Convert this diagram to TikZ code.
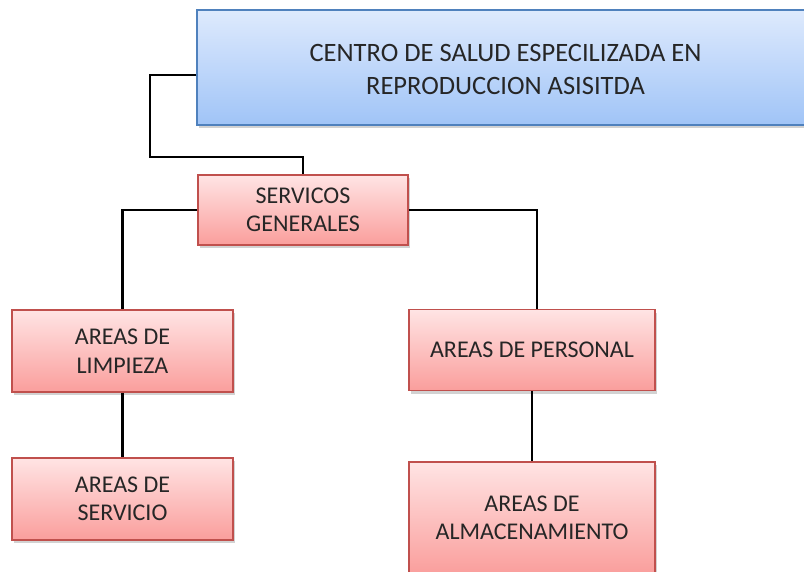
\documentclass[tikz,border=0pt]{standalone}
\usepackage{fontspec}
\setmainfont{Carlito}
\usetikzlibrary{shadows,calc}
\definecolor{blueTop}{RGB}{222,234,253}
\definecolor{blueBot}{RGB}{160,196,247}
\definecolor{blueBorder}{RGB}{79,129,189}
\definecolor{redTop}{RGB}{255,228,228}
\definecolor{redBot}{RGB}{250,158,156}
\definecolor{redBorder}{RGB}{192,80,77}
\tikzset{
  x=1pt,y=1pt,
  bluebox/.style={draw=blueBorder, line width=1.5pt, top color=blueTop, bottom color=blueBot,
    rectangle, align=center, font=\fontsize{26.5}{32.5}\selectfont, text=black!85,
    drop shadow={shadow xshift=2pt, shadow yshift=-3pt, opacity=0.35}, inner sep=0pt},
  redbox/.style={draw=redBorder, line width=1.5pt, top color=redTop, bottom color=redBot,
    rectangle, align=center, font=\fontsize{24}{28.5}\selectfont, text=black!85,
    drop shadow={shadow xshift=2pt, shadow yshift=-3pt, opacity=0.35}, inner sep=0pt},
  conn/.style={draw=black, line width=2.2pt}
}
\begin{document}
\begin{tikzpicture}
\useasboundingbox (0,0) rectangle (804,-571);
\clip (0,0) rectangle (804,-571);
\fill[white] (0,0) rectangle (804,-571);
\node[bluebox, minimum width=617, minimum height=115] (top) at (505.5,-67.5)
  {\raisebox{-4pt}[\height][\depth]{\begin{tabular}{@{}c@{}}CENTRO DE SALUD ESPECILIZADA EN\\REPRODUCCION ASISITDA\end{tabular}}};
\node[redbox, minimum width=210, minimum height=70] (serv) at (303,-210)
  {SERVICOS\\GENERALES};
\node[redbox, minimum width=221, minimum height=82] (limp) at (122.5,-351)
  {AREAS DE\\LIMPIEZA};
\node[redbox, minimum width=221, minimum height=82] (servi) at (122.5,-499)
  {AREAS DE\\SERVICIO};
\node[redbox, minimum width=246, minimum height=81] (pers) at (532,-350)
  {AREAS DE PERSONAL};
\node[redbox, minimum width=246, minimum height=112] (alm) at (532,-518)
  {AREAS DE\\ALMACENAMIENTO};
\coordinate (bend) at (150,-157);
\draw[conn] ([yshift=-7.5pt]top.west) -| (bend) -| (serv.north);
\draw[conn] (serv.west) -| (limp.north);
\draw[conn] (serv.east) -| ([xshift=5pt]pers.north);
\draw[conn] (limp.south) -- (servi.north);
\draw[conn] (pers.south) -- (alm.north);
\end{tikzpicture}
\end{document}
